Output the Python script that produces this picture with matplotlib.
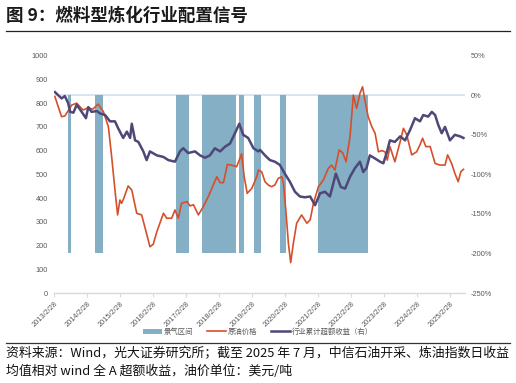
import matplotlib
matplotlib.use("Agg")
import matplotlib.pyplot as plt
from matplotlib.lines import Line2D

plt.rcParams['font.family'] = ['Liberation Sans', 'Noto Sans CJK SC', 'DejaVu Sans']

# ---------------- data ----------------
# time in fractional years
oil_t = [2013.18, 2013.38, 2013.48, 2013.69, 2013.84, 2014.03, 2014.18, 2014.33, 2014.49, 2014.65,
         2014.80, 2014.90, 2015.00, 2015.08, 2015.15, 2015.20, 2015.27, 2015.40, 2015.51, 2015.66,
         2015.81, 2015.94, 2016.06, 2016.16, 2016.27, 2016.47, 2016.57, 2016.72, 2016.82, 2016.92,
         2017.02, 2017.18, 2017.28, 2017.38, 2017.53, 2017.68, 2017.83, 2017.98, 2018.09, 2018.19,
         2018.29, 2018.41, 2018.54, 2018.69, 2018.84, 2018.92, 2019.01, 2019.15, 2019.30, 2019.35,
         2019.45, 2019.55, 2019.65, 2019.75, 2019.85, 2019.95, 2020.06, 2020.11, 2020.19, 2020.26,
         2020.33, 2020.41, 2020.51, 2020.66, 2020.82, 2020.92, 2021.02, 2021.17, 2021.32, 2021.47,
         2021.57, 2021.67, 2021.80, 2021.91, 2022.01, 2022.13, 2022.23, 2022.33, 2022.43, 2022.51,
         2022.58, 2022.68, 2022.79, 2022.89, 2022.99, 2023.09, 2023.19, 2023.26, 2023.34, 2023.49,
         2023.65, 2023.75, 2023.85, 2024.00, 2024.15, 2024.25, 2024.33, 2024.43, 2024.56, 2024.71,
         2024.86, 2025.01, 2025.09, 2025.21, 2025.31, 2025.41, 2025.49, 2025.57]
oil_price = [827, 743, 746, 792, 800, 771, 780, 775, 796, 764,
             701, 574, 434, 329, 392, 378, 400, 451, 434, 336,
             329, 260, 195, 205, 258, 336, 315, 315, 350, 315,
             378, 385, 367, 372, 329, 364, 406, 455, 490, 465,
             465, 542, 539, 532, 586, 490, 420, 441, 490, 518,
             511, 469, 455, 448, 455, 483, 490, 462, 336, 209,
             128, 209, 294, 329, 294, 308, 378, 448, 476, 525,
             539, 518, 603, 590, 553, 659, 834, 778, 841, 869,
             813, 743, 701, 673, 595, 600, 595, 560, 617, 553,
             638, 694, 666, 582, 595, 624, 652, 617, 617, 546,
             539, 539, 582, 546, 504, 469, 511, 521]

ret_t = [2013.18, 2013.28, 2013.38, 2013.48, 2013.58, 2013.64, 2013.74, 2013.84, 2013.99, 2014.12,
         2014.19, 2014.29, 2014.45, 2014.55, 2014.70, 2014.85, 2015.00, 2015.10, 2015.25, 2015.36,
         2015.46, 2015.51, 2015.61, 2015.71, 2015.86, 2015.96, 2016.06, 2016.27, 2016.47, 2016.62,
         2016.82, 2016.97, 2017.07, 2017.22, 2017.43, 2017.58, 2017.73, 2017.88, 2018.03, 2018.19,
         2018.34, 2018.49, 2018.64, 2018.77, 2018.89, 2019.04, 2019.20, 2019.35, 2019.40, 2019.55,
         2019.70, 2019.85, 2020.00, 2020.15, 2020.30, 2020.46, 2020.61, 2020.76, 2020.92, 2021.07,
         2021.22, 2021.37, 2021.52, 2021.70, 2021.85, 2021.98, 2022.13, 2022.28, 2022.43, 2022.53,
         2022.63, 2022.73, 2022.89, 2023.04, 2023.14, 2023.24, 2023.34, 2023.49, 2023.65, 2023.80,
         2023.95, 2024.10, 2024.25, 2024.35, 2024.50, 2024.61, 2024.71, 2024.81, 2024.91, 2025.01,
         2025.16, 2025.31, 2025.47, 2025.57]
excess_ret = [4, 0, -4, -1, -10, -21, -22, -12, -21, -29,
              -15, -21, -20, -23, -25, -33, -33, -42, -54, -46,
              -54, -36, -57, -59, -71, -82, -71, -76, -78, -82,
              -84, -71, -67, -73, -71, -76, -79, -76, -67, -71,
              -65, -61, -48, -36, -50, -54, -67, -71, -69, -76,
              -82, -84, -88, -99, -109, -122, -128, -129, -128, -139,
              -124, -122, -128, -99, -116, -118, -103, -92, -84, -97,
              -92, -76, -80, -84, -86, -73, -57, -59, -52, -57,
              -44, -29, -33, -25, -27, -21, -25, -38, -48, -40,
              -57, -50, -52, -54]

regime_start = [2013.57, 2014.39, 2016.84, 2017.65, 2018.76, 2019.23, 2020.01, 2021.17]
regime_end   = [2013.67, 2014.65, 2017.24, 2018.66, 2018.91, 2019.42, 2020.18, 2022.68]
regime_value = [-200] * 8

tick_years = list(range(2013, 2026))
tick_labels = [f"{y}/2/28" for y in tick_years]

left_ticks = [0, 100, 200, 300, 400, 500, 600, 700, 800, 900, 1000]
right_ticks = [-250, -200, -150, -100, -50, 0, 50]

# ---------------- style ----------------
BAR_C = '#85AFC4'
OIL_C = '#D4502A'
RET_C = '#4D4878'
TXT_C = '#595959'
CJK = ['Noto Sans CJK SC', 'DejaVu Sans']

fig = plt.figure(figsize=(5.16, 3.83), dpi=100)
W, H = 516, 383
x0, x1, yb, yt = 54.3, 465, 293, 55.7
rect = [x0 / W, 1 - yb / H, (x1 - x0) / W, (yb - yt) / H]

t0 = 2013.16  # 2013/2/28
xmax = t0 + (x1 - x0) / 32.97

ax = fig.add_axes(rect)
ax.set_facecolor('none')
widths = [e - s for s, e in zip(regime_start, regime_end)]
bars = ax.bar(regime_start, regime_value, width=widths, align='edge', bottom=0,
              color=BAR_C, linewidth=0, zorder=1)
ax.set_ylim(-250, 50)
ax.set_xlim(t0, xmax)
ax.axhline(0, color='#D5E2EA', lw=1.3, zorder=0)
ax.set_yticks([])
for s in ax.spines.values():
    s.set_visible(False)

ax_oil = ax.twinx()
ax_oil.yaxis.tick_left()
oil_line, = ax_oil.plot(oil_t, oil_price, color=OIL_C, lw=1.2, zorder=3)
ax_oil.set_ylim(0, 1000)
ax_oil.set_yticks(left_ticks)
ax_oil.set_yticklabels([str(v) for v in left_ticks])
ax_oil.tick_params(axis='y', length=0, pad=4.5, labelsize=5.3, labelcolor=TXT_C)
for s in ax_oil.spines.values():
    s.set_visible(False)
ax_oil.axhline(0, color='#D9D9D9', lw=1.0, zorder=0, clip_on=False)

ax_ret = ax.twinx()
ret_line, = ax_ret.plot(ret_t, excess_ret, color=RET_C, lw=1.8, zorder=4)
ax_ret.set_ylim(-250, 50)
ax_ret.set_yticks(right_ticks)
ax_ret.set_yticklabels([f"{v}%" for v in right_ticks])
ax_ret.tick_params(axis='y', length=0, pad=3.8, labelsize=5.3, labelcolor=TXT_C)
for s in ax_ret.spines.values():
    s.set_visible(False)

ax.set_xticks([t0 + (y - 2013) for y in tick_years])
ax.set_xticklabels(tick_labels, rotation=45, ha='right', rotation_mode='anchor')
ax.tick_params(axis='x', length=3, color='#D9D9D9', pad=2, labelsize=5.3, labelcolor=TXT_C)
ax_oil.set_xlim(t0, xmax)
ax_ret.set_xlim(t0, xmax)

# legend
leg = fig.legend([bars, oil_line, ret_line], ['景气区间', '原油价格', '行业累计超额收益（右）'],
                 loc='center', bbox_to_anchor=(258 / W, 1 - 332 / H), ncol=3, frameon=False,
                 prop={'family': CJK, 'size': 5.3}, handlelength=2.6, handletextpad=0.3,
                 columnspacing=1.8, handleheight=0.8)
for t in leg.get_texts():
    t.set_color(TXT_C)

# title
fig.text(6 / W, 1 - 16 / H, '图 9：燃料型炼化行业配置信号', family=CJK, fontsize=12.6,
         fontweight='bold', va='center', ha='left', color='#1A1A1A')
fig.add_artist(Line2D([6 / W, 510 / W], [1 - 31 / H, 1 - 31 / H], color='#222222', lw=0.9))
fig.add_artist(Line2D([6 / W, 510 / W], [1 - 343 / H, 1 - 343 / H], color='#333333', lw=0.9))

fig.text(6 / W, 1 - 353.5 / H,
         '资料来源：Wind，光大证券研究所；截至 2025 年 7 月，中信石油开采、炼油指数日收益',
         family=CJK, fontsize=9.3, va='center', ha='left', color='#111111')
fig.text(6 / W, 1 - 371.5 / H,
         '均值相对 wind 全 A 超额收益，油价单位：美元/吨',
         family=CJK, fontsize=9.3, va='center', ha='left', color='#111111')

fig.savefig('out.png', dpi=100)
